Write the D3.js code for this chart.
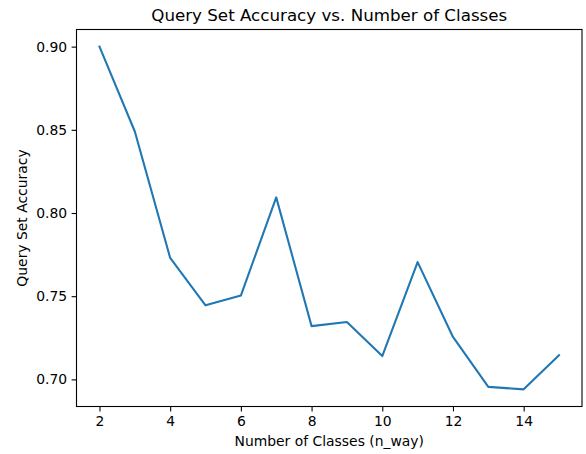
<!DOCTYPE html>
<html>
<head>
<meta charset="utf-8">
<script src="https://cdn.jsdelivr.net/npm/d3@7"></script>
<style>
  html, body { margin: 0; padding: 0; background: #fff; }
  svg { display: block; font-family: "DejaVu Sans", sans-serif; }
</style>
</head>
<body>
<script>
const nWay = [2, 3, 4, 5, 6, 7, 8, 9, 10, 11, 12, 13, 14, 15];
const accuracy = [0.900, 0.849, 0.773, 0.7445, 0.7504, 0.8094, 0.7320, 0.7345, 0.7140, 0.7705, 0.7255, 0.6955, 0.6940, 0.7145];
const xTicks = [2, 4, 6, 8, 10, 12, 14];
const yTicks = [0.70, 0.75, 0.80, 0.85, 0.90];
const titleText = "Query Set Accuracy vs. Number of Classes";
const xLabel = "Number of Classes (n_way)";
const yLabel = "Query Set Accuracy";

const W = 586, H = 454;
const m = { left: 76.5, right: 4, top: 29.5, bottom: 47.5 };

const svg = d3.select("body").append("svg").attr("width", W).attr("height", H);

const xExt = d3.extent(nWay), yExt = d3.extent(accuracy);
const xPad = (xExt[1] - xExt[0]) * 0.05, yPad = (yExt[1] - yExt[0]) * 0.05;
const x = d3.scaleLinear().domain([xExt[0] - xPad, xExt[1] + xPad]).range([m.left, W - m.right]);
const y = d3.scaleLinear().domain([yExt[0] - yPad, yExt[1] + yPad]).range([H - m.bottom, m.top]);

const xAxis = svg.append("g")
  .attr("transform", `translate(0,${H - m.bottom})`)
  .call(d3.axisBottom(x).tickValues(xTicks).tickFormat(d3.format("d")).tickSize(4.9).tickPadding(4.5));
const yAxis = svg.append("g")
  .attr("transform", `translate(${m.left},0)`)
  .call(d3.axisLeft(y).tickValues(yTicks).tickFormat(d3.format(".2f")).tickSize(4.9).tickPadding(4.5));

[xAxis, yAxis].forEach(g => {
  g.select(".domain").remove();
  g.selectAll("line").attr("stroke", "#000").attr("stroke-width", 1.1);
  g.selectAll("text").attr("fill", "#000").style("font-size", "13.9px").style("font-family", "DejaVu Sans, sans-serif");
});

const line = d3.line().x((d, i) => x(nWay[i])).y(d => y(d));
svg.append("path")
  .datum(accuracy)
  .attr("fill", "none")
  .attr("stroke", "#1f77b4")
  .attr("stroke-width", 2.08)
  .attr("stroke-linejoin", "round")
  .attr("stroke-linecap", "square")
  .attr("d", line);

svg.append("rect")
  .attr("x", m.left).attr("y", m.top)
  .attr("width", W - m.right - m.left).attr("height", H - m.bottom - m.top)
  .attr("fill", "none").attr("stroke", "#000").attr("stroke-width", 1.1);

const cx = (m.left + W - m.right) / 2;
svg.append("text")
  .attr("x", cx).attr("y", 21)
  .attr("text-anchor", "middle")
  .style("font-size", "16.7px")
  .text(titleText);

svg.append("text")
  .attr("x", cx).attr("y", 446)
  .attr("text-anchor", "middle")
  .style("font-size", "13.9px")
  .text(xLabel);

svg.append("text")
  .attr("transform", `translate(27,${(m.top + H - m.bottom) / 2}) rotate(-90)`)
  .attr("text-anchor", "middle")
  .style("font-size", "13.9px")
  .text(yLabel);
</script>
</body>
</html>
